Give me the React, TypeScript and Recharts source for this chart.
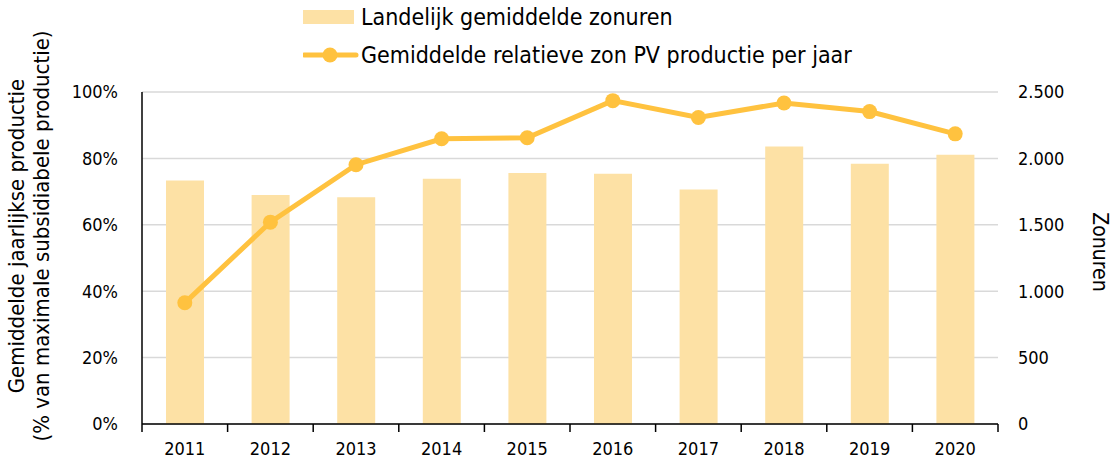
import React from 'react';
import {
  ComposedChart,
  Bar,
  Line,
  XAxis,
  YAxis,
  CartesianGrid,
  Legend,
} from 'recharts';

const years = ['2011', '2012', '2013', '2014', '2015', '2016', '2017', '2018', '2019', '2020'];
const zonuren = [1833, 1725, 1708, 1846, 1891, 1884, 1765, 2090, 1959, 2027];
const productie = [36.5, 60.8, 78.1, 85.9, 86.2, 97.4, 92.3, 96.7, 94.1, 87.4];

const pctTicks = [0, 20, 40, 60, 80, 100];
const uurTicks = [0, 500, 1000, 1500, 2000, 2500];

const BAR_NAME = 'Landelijk gemiddelde zonuren';
const LINE_NAME = 'Gemiddelde relatieve zon PV productie per jaar';

const BAR_COLOR = '#FDE1A5';
const LINE_COLOR = '#FFC23F';
const FONT = "'DejaVu Sans Condensed', 'DejaVu Sans', sans-serif";

const data = years.map((year, i) => ({
  year,
  zonuren: zonuren[i],
  productie: productie[i],
}));

const fmtUren = (v: number) =>
  v >= 1000 ? `${Math.floor(v / 1000)}.${String(v % 1000).padStart(3, '0')}` : String(v);

// year label plus Excel-style tick marks between the categories
const YearTick = (props: any) => {
  const { x, y, payload, index, visibleTicksCount, width } = props;
  const half = width / visibleTicksCount / 2;
  const axisY = y - 18;
  return (
    <g>
      <line x1={x - half} y1={axisY} x2={x - half} y2={axisY + 8} stroke="#000" strokeWidth={1.5} />
      {index === visibleTicksCount - 1 && (
        <line x1={x + half} y1={axisY} x2={x + half} y2={axisY + 8} stroke="#000" strokeWidth={1.5} />
      )}
      <text x={x} y={y} dy="0.71em" textAnchor="middle" fontSize={18} fill="#000">
        {payload.value}
      </text>
    </g>
  );
};

const LegendBox = () => (
  <div style={{ fontFamily: FONT, fontSize: 23, color: '#000', lineHeight: '26px' }}>
    <div style={{ display: 'flex', alignItems: 'center', height: 26 }}>
      <svg width={58} height={24}>
        <rect x={0} y={5} width={51} height={14} fill={BAR_COLOR} />
      </svg>
      <span>{BAR_NAME}</span>
    </div>
    <div style={{ display: 'flex', alignItems: 'center', height: 26, marginTop: 12 }}>
      <svg width={58} height={24}>
        <line x1={1} y1={12} x2={53} y2={12} stroke={LINE_COLOR} strokeWidth={5} strokeLinecap="round" />
        <circle cx={27} cy={12} r={7.5} fill={LINE_COLOR} />
      </svg>
      <span>{LINE_NAME}</span>
    </div>
  </div>
);

const LeftTitle = () => (
  <text
    transform="translate(30, 236) rotate(-90)"
    textAnchor="middle"
    fontSize={22}
    fill="#000"
    style={{ fontFamily: FONT }}
  >
    <tspan x={0} dy={-6}>Gemiddelde jaarlijkse productie</tspan>
    <tspan x={0} dy={25}>(% van maximale subsidiabele productie)</tspan>
  </text>
);

const RightTitle = () => (
  <text
    transform="translate(1093, 252) rotate(90)"
    textAnchor="middle"
    fontSize={21}
    fill="#000"
    style={{ fontFamily: FONT }}
  >
    Zonuren
  </text>
);

export default function App() {
  return (
    <div style={{ position: 'absolute', left: 0, top: 0, fontFamily: FONT, background: '#fff' }}>
      <ComposedChart
        width={1114}
        height={464}
        data={data}
        margin={{ top: 92, right: 0, bottom: 0, left: 0 }}
      >
        <CartesianGrid
          yAxisId="left"
          vertical={false}
          stroke="#D9D9D9"
          strokeWidth={1.5}
        />
        <XAxis
          dataKey="year"
          height={40}
          axisLine={{ stroke: '#000', strokeWidth: 1.5 }}
          tickLine={false}
          tickSize={8}
          tickMargin={10}
          tick={YearTick}
          interval={0}
        />
        <YAxis
          yAxisId="left"
          domain={[0, 100]}
          ticks={pctTicks}
          tickFormatter={(v) => `${v}%`}
          width={142}
          axisLine={{ stroke: '#000', strokeWidth: 1.5 }}
          tickLine={false}
          tickSize={0}
          tickMargin={24}
          tick={{ fill: '#000', fontSize: 18 }}
          label={{ content: LeftTitle }}
        />
        <YAxis
          yAxisId="right"
          orientation="right"
          domain={[0, 2500]}
          ticks={uurTicks}
          tickFormatter={fmtUren}
          width={116}
          axisLine={false}
          tickLine={false}
          tickSize={0}
          tickMargin={20}
          tick={{ fill: '#000', fontSize: 18 }}
          label={{ content: RightTitle }}
        />
        <Legend
          layout="horizontal"
          verticalAlign="middle"
          align="center"
          content={LegendBox}
          wrapperStyle={{ top: 4, left: 303, width: 'auto' }}
        />
        <Bar
          yAxisId="right"
          dataKey="zonuren"
          name={BAR_NAME}
          fill={BAR_COLOR}
          barSize={38}
          isAnimationActive={false}
        />
        <Line
          yAxisId="left"
          dataKey="productie"
          name={LINE_NAME}
          stroke={LINE_COLOR}
          strokeWidth={5}
          dot={{ r: 7.5, fill: LINE_COLOR, stroke: LINE_COLOR, strokeWidth: 0 }}
          activeDot={false}
          isAnimationActive={false}
        />
      </ComposedChart>
    </div>
  );
}
